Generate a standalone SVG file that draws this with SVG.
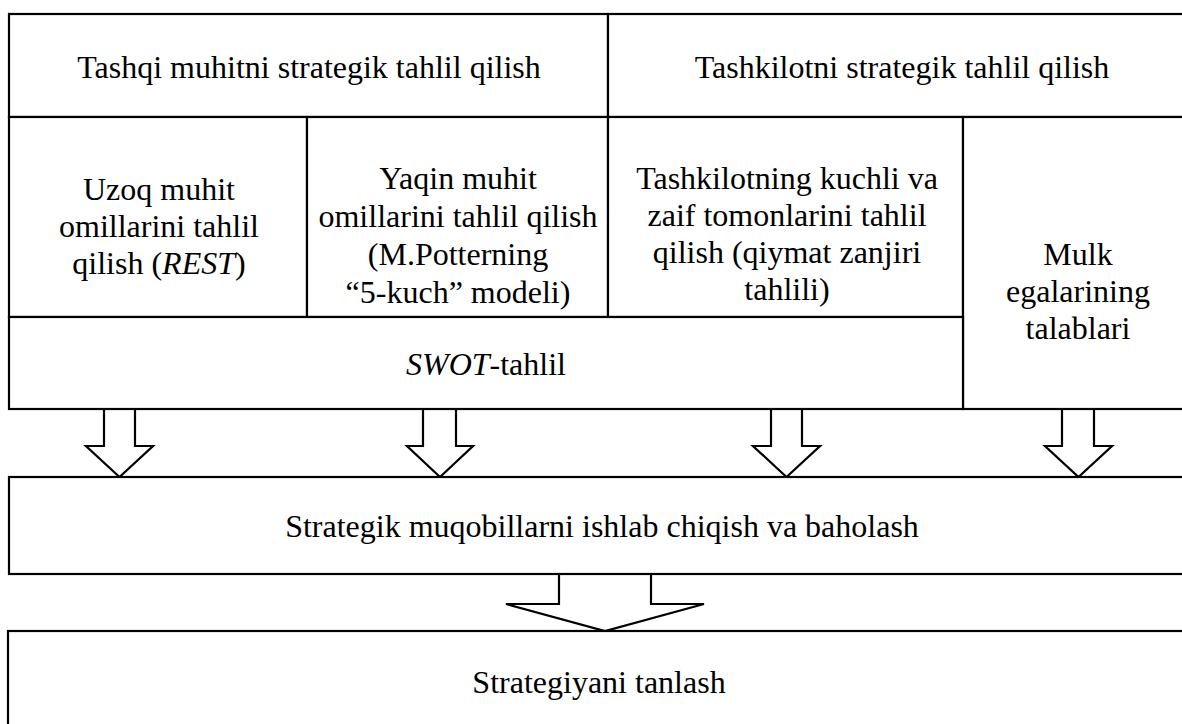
<svg xmlns="http://www.w3.org/2000/svg" width="1182" height="724" viewBox="0 0 1182 724">
  <style>
    .box { fill: #ffffff; stroke: #000000; stroke-width: 2.2; }
    .arrow { fill: #ffffff; stroke: #000000; stroke-width: 2.2; stroke-linejoin: miter; }
    .lbl { font-family: 'Liberation Serif'; font-size: 32px; fill: #000000; text-anchor: middle; }
    .it { font-style: italic; }
  </style>

  <rect x="0" y="0" width="1182" height="724" fill="#ffffff"/>

  <!-- block arrows between the levels -->
  <g id="connectors">
    <path class="arrow" d="M104,409 V446 H86 L119.5,477 L153,446 H135 V409"/>
    <path class="arrow" d="M423,409 V446 H407 L440,477 L473,446 H456 V409"/>
    <path class="arrow" d="M771,409 V446 H753 L786.5,477 L820,446 H802 V409"/>
    <path class="arrow" d="M1062,409 V446 H1045 L1078.5,477 L1112,446 H1094 V409"/>
    <path class="arrow" d="M559,574 V604 H506 L605,631 L704,604 H651 V574"/>
  </g>

  <g id="external-analysis">
    <rect class="box" x="9" y="14" width="599" height="103"/>
    <text class="lbl" x="309" y="78">Tashqi muhitni strategik tahlil qilish</text>
  </g>

  <g id="organization-analysis">
    <rect class="box" x="608" y="14" width="590" height="103"/>
    <text class="lbl" x="902" y="78">Tashkilotni strategik tahlil qilish</text>
  </g>

  <g id="remote-environment">
    <rect class="box" x="9" y="117" width="298" height="200"/>
    <text class="lbl" x="159" y="200">Uzoq muhit</text>
    <text class="lbl" x="159" y="237">omillarini tahlil</text>
    <text class="lbl" x="159" y="274">qilish (<tspan class="it">REST</tspan>)</text>
  </g>

  <g id="near-environment">
    <rect class="box" x="307" y="117" width="301" height="200"/>
    <text class="lbl" x="458" y="189">Yaqin muhit</text>
    <text class="lbl" x="458" y="227">omillarini tahlil qilish</text>
    <text class="lbl" x="458" y="265">(M.Potterning</text>
    <text class="lbl" x="458" y="303">“5-kuch” modeli)</text>
  </g>

  <g id="strengths-weaknesses">
    <rect class="box" x="608" y="117" width="355" height="200"/>
    <text class="lbl" x="787" y="189">Tashkilotning kuchli va</text>
    <text class="lbl" x="787" y="226">zaif tomonlarini tahlil</text>
    <text class="lbl" x="787" y="263">qilish (qiymat zanjiri</text>
    <text class="lbl" x="787" y="300">tahlili)</text>
  </g>

  <g id="owners-requirements">
    <rect class="box" x="963" y="117" width="235" height="292"/>
    <text class="lbl" x="1078" y="265">Mulk</text>
    <text class="lbl" x="1078" y="302">egalarining</text>
    <text class="lbl" x="1078" y="339">talablari</text>
  </g>

  <g id="swot">
    <rect class="box" x="9" y="317" width="954" height="92"/>
    <text class="lbl" x="486" y="375"><tspan class="it">SWOT</tspan>-tahlil</text>
  </g>

  <g id="alternatives">
    <rect class="box" x="9" y="477" width="1189" height="97"/>
    <text class="lbl" x="602" y="537">Strategik muqobillarni ishlab chiqish va baholash</text>
  </g>

  <g id="choice">
    <rect class="box" x="8" y="631" width="1190" height="110"/>
    <text class="lbl" x="599" y="693">Strategiyani tanlash</text>
  </g>
</svg>
